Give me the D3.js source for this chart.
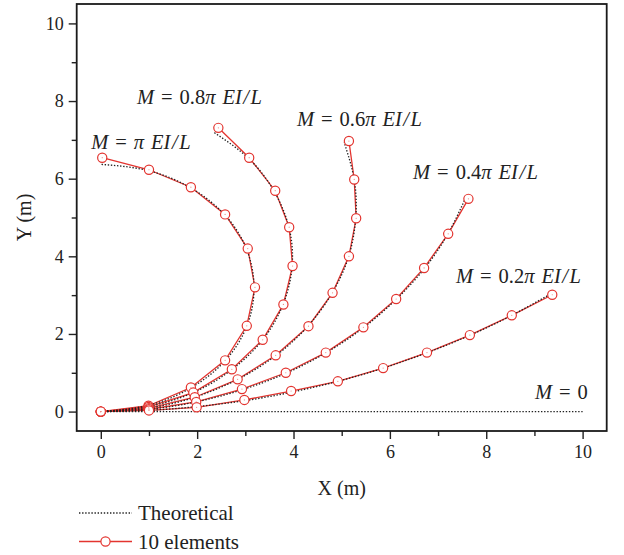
<!DOCTYPE html>
<html>
<head>
<meta charset="utf-8">
<script src="https://cdn.jsdelivr.net/npm/d3@7"></script>
<style>
  body { margin: 0; background: #fff; }
  text { font-family: "Liberation Serif", "DejaVu Serif", serif; fill: #222; }
</style>
</head>
<body>
<svg id="chart" width="624" height="555"></svg>
<script>
// theoretical curves (nodes s = 0..10 m)
const th100X = [0, 0.98, 1.87, 2.58, 3.03, 3.18, 3.03, 2.58, 1.87, 0.98, 0.00];
const th100Y = [0, 0.16, 0.61, 1.31, 2.20, 3.18, 4.17, 5.06, 5.76, 6.21, 6.37];
const th080X = [0, 0.99, 1.92, 2.72, 3.36, 3.78, 3.97, 3.91, 3.60, 3.07, 2.34];
const th080Y = [0, 0.13, 0.49, 1.08, 1.85, 2.75, 3.73, 4.72, 5.67, 6.52, 7.20];
const th060X = [0, 0.99, 1.95, 2.84, 3.63, 4.29, 4.80, 5.14, 5.29, 5.26, 5.05];
const th060Y = [0, 0.09, 0.37, 0.83, 1.44, 2.19, 3.05, 3.98, 4.97, 5.97, 6.94];
const th040X = [0, 1.00, 1.98, 2.93, 3.83, 4.68, 5.45, 6.13, 6.72, 7.20, 7.57];
const th040Y = [0, 0.06, 0.25, 0.56, 0.98, 1.52, 2.16, 2.89, 3.69, 4.57, 5.50];
const th020X = [0, 1.00, 2.00, 2.98, 3.96, 4.92, 5.86, 6.78, 7.67, 8.53, 9.35];
const th020Y = [0, 0.03, 0.13, 0.28, 0.50, 0.78, 1.12, 1.52, 1.97, 2.48, 3.04];
const th000X = [0, 10];
const th000Y = [0, 0];

// 10 elements (FE nodes)
const fe100X = [0, 0.99, 1.87, 2.58, 3.03, 3.20, 3.05, 2.58, 1.87, 1.00, 0.03];
const fe100Y = [0, 0.15, 0.62, 1.32, 2.21, 3.20, 4.20, 5.08, 5.78, 6.23, 6.54];
const fe080X = [0, 0.99, 1.92, 2.72, 3.36, 3.79, 3.98, 3.91, 3.62, 3.08, 2.44];
const fe080Y = [0, 0.12, 0.49, 1.09, 1.85, 2.76, 3.75, 4.75, 5.69, 6.54, 7.31];
const fe060X = [0, 1.00, 1.95, 2.84, 3.63, 4.31, 4.81, 5.15, 5.30, 5.26, 5.15];
const fe060Y = [0, 0.09, 0.37, 0.83, 1.45, 2.20, 3.06, 4.00, 4.98, 5.98, 6.97];
const fe040X = [0, 1.00, 1.98, 2.93, 3.84, 4.67, 5.45, 6.13, 6.71, 7.21, 7.63];
const fe040Y = [0, 0.06, 0.25, 0.58, 1.00, 1.52, 2.17, 2.90, 3.70, 4.58, 5.48];
const fe020X = [0, 1.00, 1.99, 2.98, 3.95, 4.92, 5.86, 6.77, 7.66, 8.53, 9.37];
const fe020Y = [0, 0.03, 0.11, 0.30, 0.53, 0.78, 1.12, 1.52, 1.97, 2.48, 3.01];

// moment labels
const labelCoef = ['', '0.8', '0.6', '0.4', '0.2', '0'];
const labelX = [-0.2, 0.75, 4.07, 6.48, 7.37, 9.01];
const labelY = [6.76, 7.92, 7.36, 5.99, 3.31, 0.33];

const majorTicks = [0, 2, 4, 6, 8, 10];
const minorTicks = [1, 3, 5, 7, 9];

const zip = (xs, ys) => xs.map((x, i) => [x, ys[i]]);
const theory = [zip(th100X, th100Y), zip(th080X, th080Y), zip(th060X, th060Y),
                zip(th040X, th040Y), zip(th020X, th020Y), zip(th000X, th000Y)];
const fe = [zip(fe100X, fe100Y), zip(fe080X, fe080Y), zip(fe060X, fe060Y),
            zip(fe040X, fe040Y), zip(fe020X, fe020Y)];

const red = '#e3342f';
const svg = d3.select('#chart');
const pLeft = 76.7, pRight = 606.7, pTop = 4, pBottom = 431;

const x = d3.scaleLinear().domain([-0.5, 10.5]).range([pLeft, pRight]);
const y = d3.scaleLinear().domain([-0.5, 10.5]).range([pBottom, pTop]);

// axes
svg.append('g').attr('transform', `translate(0,${pBottom})`)
  .call(d3.axisBottom(x).tickValues(majorTicks).tickSize(8).tickPadding(6));
svg.append('g').attr('transform', `translate(0,${pBottom})`)
  .call(d3.axisBottom(x).tickValues(minorTicks).tickSize(5).tickFormat(''));
svg.append('g').attr('transform', `translate(${pLeft},0)`)
  .call(d3.axisLeft(y).tickValues(majorTicks).tickSize(8).tickPadding(5));
svg.append('g').attr('transform', `translate(${pLeft},0)`)
  .call(d3.axisLeft(y).tickValues(minorTicks).tickSize(5).tickFormat(''));

svg.selectAll('.domain').remove();
svg.selectAll('.tick line').attr('stroke', '#222').attr('stroke-width', 1.4);
svg.selectAll('.tick text').attr('font-size', 18).attr('fill', '#222')
  .style('font-family', '"Liberation Serif", serif');

// frame
svg.append('rect')
  .attr('x', pLeft).attr('y', pTop)
  .attr('width', pRight - pLeft).attr('height', pBottom - pTop)
  .attr('fill', 'none').attr('stroke', '#1a1a1a').attr('stroke-width', 1.8);

// axis titles
svg.append('text').attr('x', (pLeft + pRight) / 2).attr('y', 495)
  .attr('text-anchor', 'middle').attr('font-size', 20).text('X (m)');
svg.append('text').attr('transform', `translate(31,${(pTop + pBottom) / 2}) rotate(-90)`)
  .attr('text-anchor', 'middle').attr('font-size', 20).text('Y (m)');

// curves
const line = d3.line().x(d => x(d[0])).y(d => y(d[1]));
const smooth = d3.line().x(d => x(d[0])).y(d => y(d[1])).curve(d3.curveNatural);

svg.append('g').selectAll('path.fe')
  .data(fe).join('path')
  .attr('class', 'fe')
  .attr('d', line)
  .attr('fill', 'none').attr('stroke', red).attr('stroke-width', 1.3);

svg.append('g').selectAll('path.th')
  .data(theory).join('path')
  .attr('class', 'th')
  .attr('d', smooth)
  .attr('fill', 'none').attr('stroke', '#222').attr('stroke-width', 1.3)
  .attr('stroke-dasharray', '1.4,1.7');

const nodes = fe.flat();
svg.append('g').selectAll('circle.node')
  .data(nodes).join('circle')
  .attr('class', 'node')
  .attr('cx', d => x(d[0])).attr('cy', d => y(d[1]))
  .attr('r', 4.6)
  .attr('fill', '#fff').attr('stroke', red).attr('stroke-width', 1.2);
svg.append('g').selectAll('circle.dot')
  .data(nodes).join('circle')
  .attr('cx', d => x(d[0])).attr('cy', d => y(d[1]))
  .attr('r', 0.6).attr('fill', '#f08a86');

// moment labels
const labels = svg.append('g').attr('font-size', 20.5);
labelCoef.forEach((c, i) => {
  const t = labels.append('text').attr('x', x(labelX[i])).attr('y', y(labelY[i]));
  t.append('tspan').attr('font-style', 'italic').text('M');
  t.append('tspan').attr('dx', 7).text('=');
  if (c === '0') {
    t.append('tspan').attr('dx', 7).text('0');
    return;
  }
  if (c) {
    t.append('tspan').attr('dx', 7).text(c);
    t.append('tspan').attr('font-style', 'italic').text('π');
  } else {
    t.append('tspan').attr('dx', 7).attr('font-style', 'italic').text('π');
  }
  t.append('tspan').attr('dx', 7).attr('font-style', 'italic').text('EI');
  t.append('tspan').attr('dx', 1.5).attr('font-style', 'italic').text('/');
  t.append('tspan').attr('dx', 1.5).attr('font-style', 'italic').text('L');
});

// legend
const lg = svg.append('g');
lg.append('line').attr('x1', 79).attr('x2', 132).attr('y1', 513).attr('y2', 513)
  .attr('stroke', '#222').attr('stroke-width', 1.3).attr('stroke-dasharray', '1.4,1.7');
lg.append('text').attr('x', 138).attr('y', 519.5).attr('font-size', 21).text('Theoretical');
lg.append('line').attr('x1', 79).attr('x2', 132).attr('y1', 541.5).attr('y2', 541.5)
  .attr('stroke', red).attr('stroke-width', 1.3);
lg.append('circle').attr('cx', 105.5).attr('cy', 541.5).attr('r', 4.6)
  .attr('fill', '#fff').attr('stroke', red).attr('stroke-width', 1.2);
lg.append('text').attr('x', 138).attr('y', 548.5).attr('font-size', 21).text('10 elements');
</script>
</body>
</html>
